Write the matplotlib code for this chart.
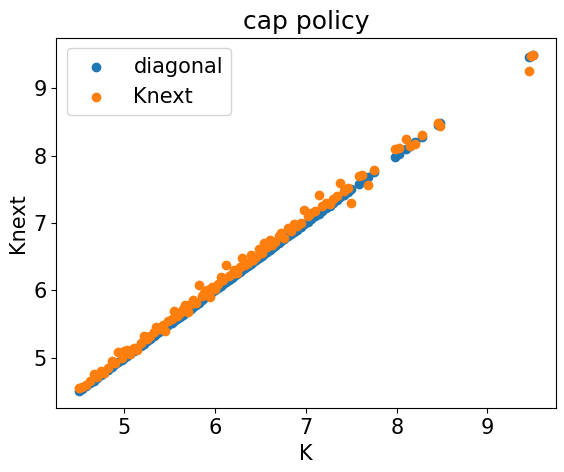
import matplotlib
matplotlib.use("Agg")
import matplotlib.pyplot as plt

K = [4.50, 4.53, 4.58, 4.62, 4.66, 4.70, 4.74, 4.78, 4.82, 4.86, 4.90, 4.93, 4.97, 5.00,
     5.03, 5.06, 5.10, 5.14, 5.18, 5.21, 5.25, 5.28, 5.32, 5.35, 5.38, 5.42, 5.45, 5.48,
     5.52, 5.55, 5.58, 5.61, 5.64, 5.67, 5.70, 5.73, 5.76, 5.79, 5.82, 5.85, 5.88, 5.91,
     5.94, 5.97, 6.00, 6.03, 6.06, 6.09, 6.12, 6.15, 6.18, 6.21, 6.24, 6.27, 6.30, 6.33,
     6.36, 6.39, 6.42, 6.45, 6.48, 6.51, 6.54, 6.57, 6.60, 6.63, 6.66, 6.70, 6.73, 6.76,
     6.80, 6.83, 6.87, 6.90, 6.94, 6.98, 7.02, 7.06, 7.10, 7.14, 7.18, 7.22, 7.26, 7.30,
     7.34, 7.38, 7.42, 7.46, 7.50, 7.58, 7.62, 7.68, 7.75, 7.98, 8.03, 8.10, 8.15, 8.20,
     8.28, 8.45, 8.48, 9.46, 9.48, 9.50]
Knext = [4.55, 4.57, 4.60, 4.66, 4.76, 4.72, 4.80, 4.78, 4.85, 4.95, 4.92, 5.08, 5.00, 5.10,
         5.12, 5.05, 5.15, 5.12, 5.22, 5.33, 5.28, 5.32, 5.38, 5.45, 5.42, 5.48, 5.40, 5.55,
         5.58, 5.70, 5.62, 5.66, 5.72, 5.78, 5.68, 5.80, 5.85, 5.82, 6.08, 5.92, 5.96, 6.00,
         5.90, 6.05, 6.02, 6.10, 6.20, 6.15, 6.37, 6.22, 6.25, 6.30, 6.26, 6.35, 6.48, 6.38,
         6.40, 6.52, 6.45, 6.50, 6.62, 6.55, 6.70, 6.65, 6.75, 6.68, 6.72, 6.80, 6.85, 6.78,
         6.92, 6.88, 6.98, 6.95, 7.00, 7.20, 7.10, 7.15, 7.18, 7.42, 7.25, 7.30, 7.28, 7.35,
         7.40, 7.60, 7.48, 7.52, 7.30, 7.70, 7.72, 7.56, 7.78, 8.10, 8.12, 8.25, 8.14, 8.18,
         8.30, 8.48, 8.44, 9.25, 9.48, 9.50]

fig, ax = plt.subplots(figsize=(5.64, 4.72), dpi=100)
ax.scatter(K, K, color="#1f77b4", label="diagonal")
ax.scatter(K, Knext, color="#ff7f0e", label="Knext")
ax.set_title("cap policy", fontsize=18)
ax.set_xlabel("K", fontsize=15)
ax.set_ylabel("Knext", fontsize=15)
ax.set_xticks([5, 6, 7, 8, 9])
ax.set_yticks([5, 6, 7, 8, 9])
ax.tick_params(labelsize=15)
ax.legend(fontsize=15)
fig.subplots_adjust(left=0.10, right=0.985, bottom=0.135, top=0.92)
fig.savefig("out.png")
